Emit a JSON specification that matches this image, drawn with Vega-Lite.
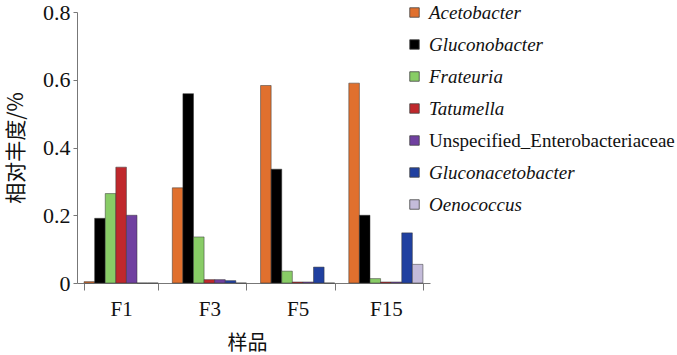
{
  "$schema": "https://vega.github.io/schema/vega-lite/v6.json",
  "autosize": {"type": "none"},
  "padding": {"left": 77, "top": 12, "right": 247, "bottom": 72},
  "width": 353,
  "height": 271,
  "background": "white",
  "config": {"view": {"stroke": null}, "font": "Liberation Serif",
    "axis": {"labelFont": "Liberation Serif"}, "legend": {"labelFont": "Liberation Serif"}},
  "data": {"values": [
    {"sample": "F1", "genus": "Acetobacter", "value": 0.004},
    {"sample": "F1", "genus": "Gluconobacter", "value": 0.191},
    {"sample": "F1", "genus": "Frateuria", "value": 0.264},
    {"sample": "F1", "genus": "Tatumella", "value": 0.342},
    {"sample": "F1", "genus": "Unspecified_Enterobacteriaceae", "value": 0.2},
    {"sample": "F1", "genus": "Gluconacetobacter", "value": 0},
    {"sample": "F1", "genus": "Oenococcus", "value": 0},
    {"sample": "F3", "genus": "Acetobacter", "value": 0.281},
    {"sample": "F3", "genus": "Gluconobacter", "value": 0.559},
    {"sample": "F3", "genus": "Frateuria", "value": 0.136},
    {"sample": "F3", "genus": "Tatumella", "value": 0.01},
    {"sample": "F3", "genus": "Unspecified_Enterobacteriaceae", "value": 0.01},
    {"sample": "F3", "genus": "Gluconacetobacter", "value": 0.007},
    {"sample": "F3", "genus": "Oenococcus", "value": 0},
    {"sample": "F5", "genus": "Acetobacter", "value": 0.583},
    {"sample": "F5", "genus": "Gluconobacter", "value": 0.336},
    {"sample": "F5", "genus": "Frateuria", "value": 0.035},
    {"sample": "F5", "genus": "Tatumella", "value": 0.003},
    {"sample": "F5", "genus": "Unspecified_Enterobacteriaceae", "value": 0.003},
    {"sample": "F5", "genus": "Gluconacetobacter", "value": 0.047},
    {"sample": "F5", "genus": "Oenococcus", "value": 0},
    {"sample": "F15", "genus": "Acetobacter", "value": 0.59},
    {"sample": "F15", "genus": "Gluconobacter", "value": 0.2},
    {"sample": "F15", "genus": "Frateuria", "value": 0.013},
    {"sample": "F15", "genus": "Tatumella", "value": 0.003},
    {"sample": "F15", "genus": "Unspecified_Enterobacteriaceae", "value": 0.003},
    {"sample": "F15", "genus": "Gluconacetobacter", "value": 0.148},
    {"sample": "F15", "genus": "Oenococcus", "value": 0.055}
  ]},
  "mark": {"type": "bar", "stroke": "#333", "strokeWidth": 0.5},
  "encoding": {
    "x": {
      "field": "sample", "type": "nominal",
      "sort": ["F1", "F3", "F5", "F15"],
      "scale": {"paddingInner": 0.16, "paddingOuter": 0.08},
      "axis": {
        "title": "样品", "titleFont": "Noto Sans CJK SC", "titleFontSize": 20, "titleFontWeight": "normal",
        "titleColor": "#111", "titlePadding": 14, "titleX": 170,
        "labelAngle": 0, "labelFont": "Liberation Serif", "labelFontSize": 21, "labelColor": "#111", "labelPadding": 8,
        "tickBand": "extent", "tickSize": 7, "tickColor": "#777", "domainColor": "#777"
      }
    },
    "xOffset": {"field": "genus", "type": "nominal",
      "sort": ["Acetobacter", "Gluconobacter", "Frateuria", "Tatumella", "Unspecified_Enterobacteriaceae", "Gluconacetobacter", "Oenococcus"]},
    "y": {
      "field": "value", "type": "quantitative",
      "scale": {"domain": [0, 0.8]},
      "axis": {
        "title": "相对丰度/%", "titleFont": "Noto Sans CJK SC", "titleFontSize": 21, "titleFontWeight": "normal",
        "titleColor": "#111", "titlePadding": 16,
        "values": [0, 0.2, 0.4, 0.6, 0.8], "format": "~g",
        "labelFont": "Liberation Serif", "labelFontSize": 22, "labelColor": "#111", "labelPadding": 3,
        "grid": false, "tickSize": 4, "tickColor": "#777", "domainColor": "#777"
      }
    },
    "color": {
      "field": "genus", "type": "nominal",
      "sort": ["Acetobacter", "Gluconobacter", "Frateuria", "Tatumella", "Unspecified_Enterobacteriaceae", "Gluconacetobacter", "Oenococcus"],
      "scale": {
        "domain": ["Acetobacter", "Gluconobacter", "Frateuria", "Tatumella", "Unspecified_Enterobacteriaceae", "Gluconacetobacter", "Oenococcus"],
        "range": ["#E0702E", "#000000", "#88CC66", "#C0282C", "#7040A0", "#2040A0", "#C4BCDA"]
      },
      "legend": {
        "title": null, "orient": "none", "legendX": 328, "legendY": -9,
        "symbolType": "square", "symbolSize": 90, "symbolStrokeColor": "#444", "symbolStrokeWidth": 0.8,
        "labelFont": "Liberation Serif", "labelFontSize": 19, "labelColor": "#111", "labelLimit": 400,
        "labelFontStyle": {"expr": "datum.label == 'Unspecified_Enterobacteriaceae' ? 'normal' : 'italic'"},
        "rowPadding": 12, "labelOffset": 5
      }
    }
  }
}
